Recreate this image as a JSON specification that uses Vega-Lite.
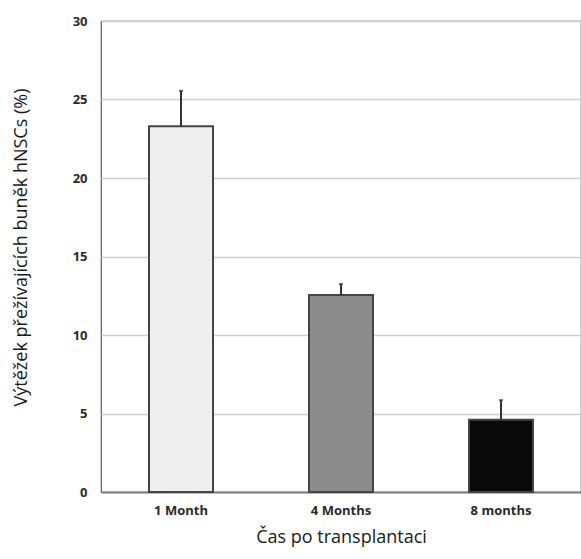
{
  "$schema": "https://vega.github.io/schema/vega-lite/v6.json",
  "width": 480,
  "height": 471,
  "autosize": {"type": "none"},
  "padding": {"left": 101, "top": 21, "right": 0, "bottom": 67},
  "background": "white",
  "config": {
    "font": "Open Sans",
    "view": {"stroke": "#595959", "strokeWidth": 1.2}
  },
  "data": {
    "values": [
      {"time": "1 Month", "value": 23.3, "err": 2.25},
      {"time": "4 Months", "value": 12.55, "err": 0.7},
      {"time": "8 months", "value": 4.6, "err": 1.25}
    ]
  },
  "transform": [{"calculate": "datum.value + datum.err", "as": "hi"}],
  "encoding": {
    "x": {
      "field": "time",
      "type": "nominal",
      "sort": null,
      "scale": {"paddingInner": 0.6, "paddingOuter": 0.3},
      "axis": {
        "title": "Čas po transplantaci",
        "titleFontSize": 18,
        "titleFontWeight": "normal",
        "titleColor": "#1a1a1a",
        "titlePadding": 11,
        "labelAngle": 0,
        "labelFontSize": 13,
        "labelFontWeight": "bold",
        "labelColor": "#2a2a2a",
        "labelPadding": 12,
        "ticks": false,
        "domain": true,
        "domainColor": "#7f7f7f",
        "domainWidth": 2
      }
    }
  },
  "layer": [
    {
      "mark": {"type": "bar", "stroke": "#454545", "strokeWidth": 2},
      "encoding": {
        "y": {
          "field": "value",
          "type": "quantitative",
          "scale": {"domain": [0, 30]},
          "axis": {
            "title": "Výtěžek přežívajících buněk hNSCs (%)",
            "titleFontSize": 18,
            "titleFontWeight": "normal",
            "titleColor": "#1a1a1a",
            "titlePadding": 42,
            "titleY": 226,
            "values": [0, 5, 10, 15, 20, 25, 30],
            "labelFontSize": 13,
            "labelFontWeight": "bold",
            "labelColor": "#2a2a2a",
            "labelPadding": 14,
            "ticks": false,
            "domain": false,
            "grid": true,
            "gridColor": "#d0d0d0",
            "gridWidth": 1.5
          }
        },
        "color": {
          "field": "time",
          "type": "nominal",
          "sort": null,
          "scale": {"range": ["#efefef", "#8c8c8c", "#0a0a0a"]},
          "legend": null
        }
      }
    },
    {
      "mark": {"type": "rule", "color": "#333", "strokeWidth": 2},
      "encoding": {
        "y": {"field": "value", "type": "quantitative"},
        "y2": {"field": "hi"}
      }
    },
    {
      "mark": {"type": "tick", "color": "#333", "size": 4, "thickness": 2},
      "encoding": {
        "y": {"field": "hi", "type": "quantitative"}
      }
    }
  ]
}
